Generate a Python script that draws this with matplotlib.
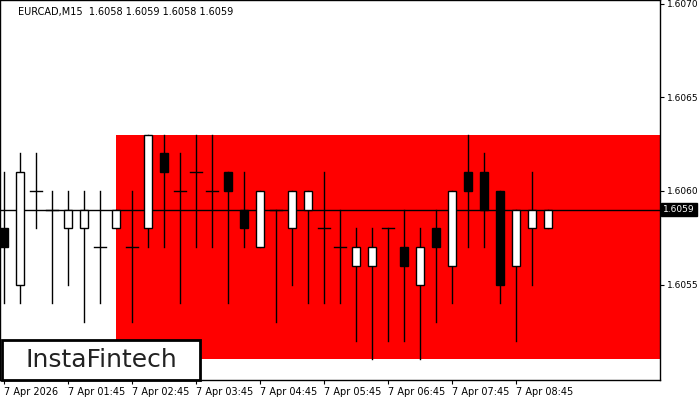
import matplotlib
matplotlib.use("Agg")
import matplotlib.pyplot as plt
from matplotlib.patches import Rectangle

opens  = [1.6058,1.6055,1.6060,1.6059,1.6058,1.6058,1.6057,1.6058,1.6057,1.6058,1.6062,1.6060,1.6061,1.6060,1.6061,1.6059,1.6057,1.6059,1.6058,1.6059,1.6058,
          1.6057,1.6056,1.6056,1.6058,1.6057,1.6055,1.6058,1.6056,1.6061,1.6061,1.6060,1.6056,1.6058,1.6058]
closes = [1.6057,1.6061,1.6060,1.6059,1.6059,1.6059,1.6057,1.6059,1.6057,1.6063,1.6061,1.6060,1.6061,1.6060,1.6060,1.6058,1.6060,1.6059,1.6060,1.6060,1.6058,
          1.6057,1.6057,1.6057,1.6058,1.6056,1.6057,1.6057,1.6060,1.6060,1.6059,1.6055,1.6059,1.6059,1.6059]
highs  = [1.6061,1.6062,1.6062,1.6060,1.6060,1.6060,1.6060,1.6059,1.6060,1.6063,1.6063,1.6062,1.6063,1.6063,1.6061,1.6061,1.6060,1.6059,1.6060,1.6060,1.6061,
          1.6059,1.6058,1.6058,1.6058,1.6059,1.6058,1.6059,1.6060,1.6063,1.6062,1.6060,1.6059,1.6061,1.6059]
lows   = [1.6054,1.6054,1.6058,1.6054,1.6055,1.6053,1.6054,1.6058,1.6053,1.6057,1.6057,1.6054,1.6057,1.6057,1.6054,1.6057,1.6057,1.6053,1.6055,1.6054,1.6054,
          1.6054,1.6052,1.6051,1.6052,1.6052,1.6051,1.6053,1.6054,1.6057,1.6057,1.6054,1.6052,1.6055,1.6058]
tick_idx = [0,4,8,12,16,20,24,28,32]
tick_labels = ["7 Apr 2026","7 Apr 01:45","7 Apr 02:45","7 Apr 03:45","7 Apr 04:45",
               "7 Apr 05:45","7 Apr 06:45","7 Apr 07:45","7 Apr 08:45"]
y_ticks = [1.6055,1.6060,1.6065,1.6070]
zone_start, zone_top, zone_bottom = 7, 1.6063, 1.60510
current = 1.6059
title = "EURCAD,M15  1.6058 1.6059 1.6058 1.6059"

fig = plt.figure(figsize=(7,4), dpi=100)
ax = fig.add_axes([0, 0.05, 660/700, 0.95])
ax.set_xlim(-0.25, 41)
ax.set_ylim(1.60499, 1.60702)

ax.add_patch(Rectangle((zone_start, zone_bottom), 41-zone_start, zone_top-zone_bottom,
                       facecolor="#ff0000", edgecolor="none", zorder=1))
ax.axhline(current, color="black", lw=1, zorder=2)
w = 0.55
for i,(o,c,h,l) in enumerate(zip(opens,closes,highs,lows)):
    ax.plot([i,i],[l,h], color="black", lw=1, zorder=3)
    if o == c:
        ax.plot([i-w/2-0.1,i+w/2+0.1],[o,o], color="black", lw=1, zorder=4)
    else:
        fc = "white" if c > o else "black"
        ax.add_patch(Rectangle((i-w/2, min(o,c)), w, abs(c-o), facecolor=fc,
                               edgecolor="black", lw=1, zorder=4))

ax.set_xticks(tick_idx)
ax.set_xticklabels(tick_labels, fontsize=7, ha="left")
ax.tick_params(axis="x", length=3, pad=2)
ax.yaxis.tick_right()
ax.set_yticks(y_ticks)
ax.set_yticklabels([f"{v:.4f}" for v in y_ticks], fontsize=6.5)
ax.tick_params(axis="y", length=3, pad=2)
ax.text(1.005, (current-1.60499)/(1.60702-1.60499), f"{current:.4f}", transform=ax.transAxes,
        fontsize=6.5, color="white", va="center", ha="left",
        bbox=dict(facecolor="black", edgecolor="black", pad=1.5))
ax.text(18/660, 1-12/380, title, transform=ax.transAxes, fontsize=7, va="center", ha="left")
for s in ax.spines.values():
    s.set_linewidth(1)

fig.patches.append(Rectangle((2/700, 20/400), 198/700, 40/400, transform=fig.transFigure,
                             facecolor="white", edgecolor="black", lw=2, zorder=10))
fig.text(101/700, 40/400, "InstaFintech", fontsize=18, ha="center", va="center",
         color="#222222", zorder=11)
fig.savefig("out.png", dpi=100)
